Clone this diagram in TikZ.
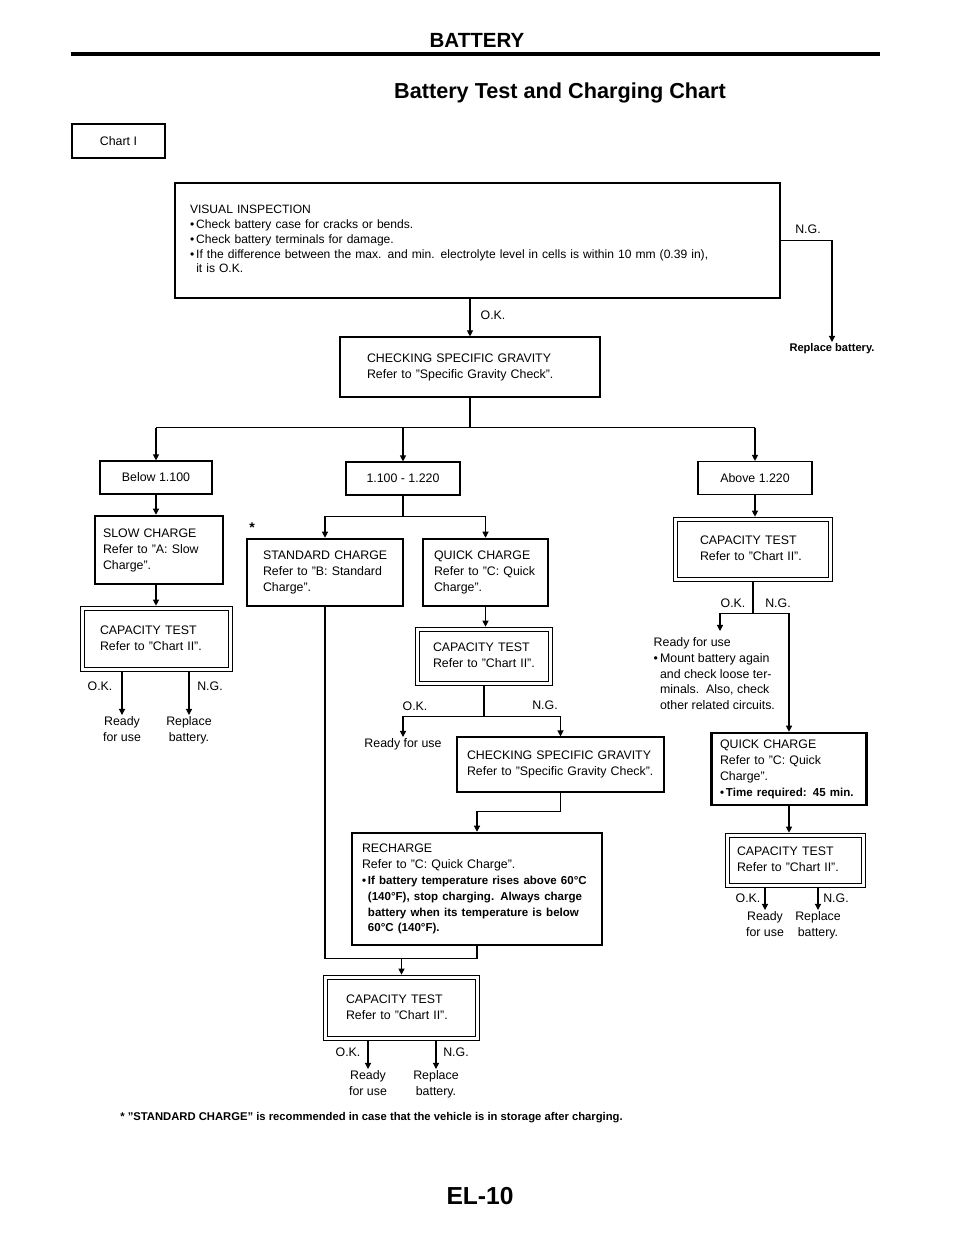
\documentclass[tikz,border=0pt]{standalone}
\usepackage{fontspec}
\setmainfont{Liberation Sans}
\usetikzlibrary{arrows.meta}

\newlength{\pxu}
\setlength{\pxu}{0.025cm}
\newcommand{\rows}[1]{\begin{tabular}{@{}l@{}}#1\end{tabular}}
\newcommand{\boldrow}[1]{{\fontsize{8.2}{11.2}\selectfont\bfseries #1}}

\tikzset{
  box/.style={draw, rectangle, line width=0.8pt, inner ysep=0pt, align=left,
    font=\fontsize{8.8}{11.3}\selectfont},
  heavy/.style={box, line width=1.8pt},
  dbox/.style={box, double, line width=0.6pt, double distance=2.8pt, outer sep=2pt},
  sz/.style n args={4}{minimum width=#1\pxu, minimum height=#2\pxu,
    inner xsep=#3\pxu, text width=#4\pxu},
  lbl/.style={inner sep=1pt, align=center, font=\fontsize{8.8}{11.3}\selectfont},
  wire/.style={line width=0.8pt}
}

\begin{document}
\begin{tikzpicture}[x=0.025cm, y=-0.025cm, >={Triangle[length=4.3pt,width=4.3pt]}]
\useasboundingbox (0,0) rectangle (960,1242);

% heading
\node[font=\bfseries\fontsize{14.6}{16}\selectfont] (head) at (477,40) {BATTERY};
\draw[line width=2.2pt] (71,54) -- (880,54);
\node[font=\bfseries\fontsize{15.4}{18}\selectfont] (title) at (560,93) {Battery Test and Charging Chart};
\node[box, line width=1.4pt, minimum width=93\pxu, minimum height=34\pxu] (chart) at (118.5,141) {Chart I};

% boxes
\node[box, sz={605}{115}{15}{575}, font=\fontsize{8.6}{10.5}\selectfont] (vis) at (477.5,240.5) {\rows{VISUAL INSPECTION\\
  •\,Check battery case for cracks or bends.\\
  •\,Check battery terminals for damage.\\
  •\,If the difference between the max. and min. electrolyte level in cells is within 10 mm (0.39 in),\\
  \phantom{•\,}it is O.K.}};
\node[box, sz={260}{60}{27}{206}] (csg1) at (470,367) {\rows{CHECKING SPECIFIC GRAVITY\\
  Refer to ''Specific Gravity Check''.}};

\node[box, minimum width=112\pxu, minimum height=33\pxu] (below) at (156,477.5) {Below 1.100};
\node[box, minimum width=114\pxu, minimum height=33\pxu] (mid) at (403,478.5) {1.100 - 1.220};
\node[box, minimum width=114\pxu, minimum height=33\pxu] (above) at (755,478) {Above 1.220};

\node[heavy, sz={128}{68}{8}{112}] (slow) at (159,550) {\rows{SLOW CHARGE\\ Refer to ''A: Slow\\ Charge''.}};
\node[dbox, sz={148}{61}{17.5}{113}] (cap1) at (156.5,639) {\rows{CAPACITY TEST\\ Refer to ''Chart II''.}};

\node[heavy, sz={156}{67}{16}{124}] (std) at (325,572.5) {\rows{STANDARD CHARGE\\ Refer to ''B: Standard\\ Charge''.}};
\node[heavy, sz={125}{67}{11}{103}] (qc1) at (485.5,572.5) {\rows{QUICK CHARGE\\ Refer to ''C: Quick\\ Charge''.}};
\node[dbox, sz={133}{54}{15.5}{102}] (cap2) at (484,656.5) {\rows{CAPACITY TEST\\ Refer to ''Chart II''.}};
\node[box, sz={207}{55}{10}{187}] (csg2) at (560.5,764.5) {\rows{CHECKING SPECIFIC GRAVITY\\
  Refer to ''Specific Gravity Check''.}};
\node[heavy, sz={250}{112}{10}{230}] (rech) at (477,889) {\rows{RECHARGE\\
  Refer to ''C: Quick Charge''.\\
  \boldrow{•\,If battery temperature rises above 60°C}\\
  \boldrow{\phantom{•\,}(140°F), stop charging. Always charge}\\
  \boldrow{\phantom{•\,}battery when its temperature is below}\\
  \boldrow{\phantom{•\,}60°C (140°F).}}};
\node[dbox, sz={152}{61}{20.5}{111}] (cap3) at (401.5,1008) {\rows{CAPACITY TEST\\ Refer to ''Chart II''.}};

\node[dbox, sz={155}{60}{24.5}{106}] (cap4) at (753,549.5) {\rows{CAPACITY TEST\\ Refer to ''Chart II''.}};
\node[heavy, sz={155}{72}{8.5}{138}] (qc2) at (789,769) {\rows{QUICK CHARGE\\ Refer to ''C: Quick\\ Charge''.\\
  \boldrow{•\,Time required: 45 min.}}};
\node[dbox, sz={136}{50}{9.5}{117}] (cap5) at (795.5,860.5) {\rows{CAPACITY TEST\\ Refer to ''Chart II''.}};

% labels
\node[lbl] (ok0) at (493,315) {O.K.};
\node[lbl] (ng0) at (808,229) {N.G.};
\node[lbl, anchor=north, font=\bfseries\fontsize{7.9}{10}\selectfont] (repl0) at (832,342) {Replace battery.};
\node[lbl, font=\bfseries\fontsize{10}{10}\selectfont] (star) at (252,528) {*};

\node[lbl] (ok1) at (100,686) {O.K.};
\node[lbl] (ng1) at (210,686) {N.G.};
\node[lbl, anchor=north] (ready1) at (122,715) {Ready\\for use};
\node[lbl, anchor=north] (replace1) at (189,715) {Replace\\battery.};

\node[lbl] (ok2) at (415,706) {O.K.};
\node[lbl] (ng2) at (545,705) {N.G.};
\node[lbl, anchor=north] (ready2) at (403,737) {Ready for use};

\node[lbl] (ok4) at (733,603) {O.K.};
\node[lbl] (ng4) at (778,603) {N.G.};
\coordinate (okend4) at (720,631);
\node[lbl, anchor=north west, font=\fontsize{8.8}{11.2}\selectfont] (ready4) at (652,634) {\rows{Ready for use\\
  •\,Mount battery again\\
  \phantom{•\,}and check loose ter-\\
  \phantom{•\,}minals.\ \ Also, check\\
  \phantom{•\,}other related circuits.}};

\node[lbl] (ok5) at (748,898) {O.K.};
\node[lbl] (ng5) at (836,898) {N.G.};
\node[lbl, anchor=north] (ready5) at (765,910) {Ready\\for use};
\node[lbl, anchor=north] (replace5) at (818,910) {Replace\\battery.};

\node[lbl] (ok3) at (348,1052) {O.K.};
\node[lbl] (ng3) at (456,1052) {N.G.};
\node[lbl, anchor=north] (ready3) at (368,1069) {Ready\\for use};
\node[lbl, anchor=north] (replace3) at (436,1069) {Replace\\battery.};

\node[anchor=west, inner sep=0pt, font=\bfseries\fontsize{8}{9}\selectfont] (foot) at (120,1118)
  {* ''STANDARD CHARGE'' is recommended in case that the vehicle is in storage after charging.};
\node[font=\bfseries\fontsize{17.5}{20}\selectfont] (page) at (480,1196) {EL-10};

% connectors
\draw[wire,->] (vis.south -| csg1.north) -- (csg1.north);
\draw[wire,->] (vis.east) -| (repl0.north);
\draw[wire] (csg1.south) -- ++(0,30) coordinate (fork1);
\draw[wire] (below.north |- fork1) -- (above.north |- fork1);
\draw[wire,->] (below.north |- fork1) -- (below.north);
\draw[wire,->] (mid.north |- fork1) -- (mid.north);
\draw[wire,->] (above.north |- fork1) -- (above.north);

\draw[wire,->] (below.south) -- (below.south |- slow.north);
\draw[wire,->] (below.south |- slow.south) -- (below.south |- cap1.north);
\draw[wire,->] (ready1.north |- cap1.south) -- (ready1.north);
\draw[wire,->] (replace1.north |- cap1.south) -- (replace1.north);

\draw[wire] (mid.south) -- ++(0,21) coordinate (fork2);
\draw[wire,->] (fork2) -| (std.north);
\draw[wire,->] (fork2) -| (qc1.north);
\draw[wire,->] (qc1.south) -- (qc1.south |- cap2.north);
\draw[wire] (cap2.south) -- ++(0,30) coordinate (fork3);
\draw[wire,->] (fork3) -| (ready2.north);
\draw[wire,->] (fork3) -| (csg2.north);
\draw[wire,->] (csg2.south) -- ++(0,19) -| (rech.north);
\path (rech.south) ++(0,12) coordinate (join);
\draw[wire] (std.south) |- (join) -- (rech.south);
\draw[wire,->] (cap3.north |- join) -- (cap3.north);
\draw[wire,->] (ready3.north |- cap3.south) -- (ready3.north);
\draw[wire,->] (replace3.north |- cap3.south) -- (replace3.north);

\draw[wire,->] (above.south) -- (above.south |- cap4.north);
\draw[wire] (cap4.south) -- ++(0,31) coordinate (fork4);
\draw[wire,->] (fork4) -| (okend4);
\draw[wire,->] (fork4) -| (qc2.north);
\draw[wire,->] (qc2.south) -- (qc2.south |- cap5.north);
\draw[wire,->] (ready5.north |- cap5.south) -- (ready5.north);
\draw[wire,->] (replace5.north |- cap5.south) -- (replace5.north);
\end{tikzpicture}
\end{document}
